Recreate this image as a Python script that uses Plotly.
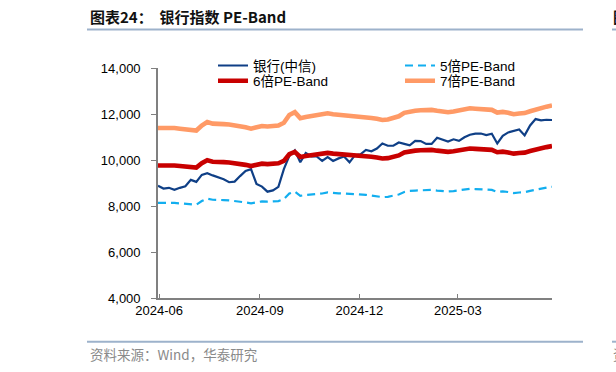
import pandas as pd
import plotly.graph_objects as go

# ---------------- data ----------------
dates = pd.date_range("2024-05-31", periods=73, freq="5D")

bank_index = [8880, 8760, 8790, 8700, 8790, 8860, 9135, 9050, 9353, 9427,
              9330, 9240, 9160, 9034, 9060, 9300, 9528, 9600, 8960, 8842,
              8623, 8680, 8830, 9600, 10180, 10420, 9900, 10300, 10160, 10153,
              9960, 10130, 9960, 10070, 10150, 9900, 10210, 10250, 10440, 10380,
              10500, 10720, 10620, 10620, 10760, 10700, 10640, 10830, 10820, 10700,
              10700, 10970, 10900, 10800, 10900, 10830, 10990, 11100, 11150, 11150,
              11080, 11140, 10720, 11050, 11200, 11250, 11330, 11071, 11500, 11780,
              11720, 11750, 11740]

band_5x = [8136, 8143, 8129, 8136, 8114, 8100, 8071, 8057, 8214, 8321,
           8271, 8279, 8257, 8243, 8221, 8193, 8157, 8114, 8143, 8200,
           8186, 8193, 8214, 8300, 8543, 8629, 8443, 8479, 8500, 8514,
           8543, 8593, 8564, 8550, 8543, 8536, 8521, 8500, 8486, 8450,
           8421, 8386, 8400, 8443, 8500, 8607, 8657, 8671, 8686, 8700,
           8700, 8671, 8650, 8629, 8650, 8686, 8729, 8750, 8736, 8729,
           8714, 8700, 8614, 8636, 8607, 8564, 8586, 8600, 8657, 8714,
           8764, 8800, 8836]

band_6x = [9763, 9771, 9754, 9763, 9737, 9720, 9686, 9669, 9857, 9986,
           9926, 9934, 9909, 9891, 9866, 9831, 9789, 9737, 9771, 9840,
           9823, 9831, 9857, 9960, 10251, 10354, 10131, 10174, 10200, 10217,
           10251, 10311, 10277, 10260, 10251, 10243, 10226, 10200, 10183, 10140,
           10106, 10063, 10080, 10131, 10200, 10329, 10389, 10406, 10423, 10440,
           10440, 10406, 10380, 10354, 10380, 10423, 10474, 10500, 10483, 10474,
           10457, 10440, 10337, 10363, 10329, 10277, 10303, 10320, 10389, 10457,
           10517, 10560, 10603]

band_7x = [11390, 11400, 11380, 11390, 11360, 11340, 11300, 11280, 11500, 11650,
           11580, 11590, 11560, 11540, 11510, 11470, 11420, 11360, 11400, 11480,
           11460, 11470, 11500, 11620, 11960, 12080, 11820, 11870, 11900, 11920,
           11960, 12030, 11990, 11970, 11960, 11950, 11930, 11900, 11880, 11830,
           11790, 11740, 11760, 11820, 11900, 12050, 12120, 12140, 12160, 12180,
           12180, 12140, 12110, 12080, 12110, 12160, 12220, 12250, 12230, 12220,
           12200, 12180, 12060, 12090, 12050, 11990, 12020, 12040, 12120, 12200,
           12270, 12320, 12370]

series_names = ["银行(中信)", "5倍PE-Band", "6倍PE-Band", "7倍PE-Band"]
y_ticks = [4000, 6000, 8000, 10000, 12000, 14000]
x_ticks = ["2024-06-01", "2024-09-01", "2024-12-01", "2025-03-01"]
x_labels = ["2024-06", "2024-09", "2024-12", "2025-03"]

title_text = "图表24：  银行指数 PE-Band"
source_text = "资料来源：Wind，华泰研究"

# ---------------- figure ----------------
W, H = 616, 372
ML, MR, MT, MB = 158, 64, 68, 74
PW, PH = W - ML - MR, H - MT - MB


def px_x(p):
    return (p - ML) / PW


def px_y(p):
    return (H - MB - p) / PH


LAT = "Liberation Sans, Arial, Noto Sans CJK SC, sans-serif"
CJK = "Noto Sans CJK SC, Liberation Sans, sans-serif"

fig = go.Figure()
fig.add_trace(go.Scatter(x=dates, y=bank_index, name=series_names[0], mode="lines",
                         line=dict(color="#0F3F86", width=2.2), legend="legend"))
fig.add_trace(go.Scatter(x=dates, y=band_5x, name=series_names[1], mode="lines",
                         line=dict(color="#12AEEF", width=2.2, dash="8px,5px"), legend="legend"))
fig.add_trace(go.Scatter(x=dates, y=band_6x, name=series_names[2], mode="lines",
                         line=dict(color="#C80000", width=4.6), legend="legend2"))
fig.add_trace(go.Scatter(x=dates, y=band_7x, name=series_names[3], mode="lines",
                         line=dict(color="#FF9A66", width=4.6), legend="legend2"))

axis_color = "#808080"
tick_font = dict(family=LAT, size=13, color="#000000")

fig.update_xaxes(range=[dates[0], dates[-1]], tickvals=x_ticks, ticktext=x_labels,
                 showgrid=False, zeroline=False, showline=True, linecolor=axis_color,
                 linewidth=1.6, ticks="inside", ticklen=4, tickcolor=axis_color,
                 tickwidth=1.2, tickfont=tick_font)
fig.update_yaxes(range=[4000, 14000], tickvals=y_ticks, tickformat=",",
                 showgrid=False, zeroline=False, showline=True, linecolor=axis_color,
                 linewidth=1.6, ticks="outside", ticklen=5, tickcolor=axis_color,
                 tickwidth=1.2, tickfont=tick_font, ticklabelstandoff=8)

leg_common = dict(orientation="h", xanchor="left", yanchor="middle",
                  entrywidth=142, entrywidthmode="pixels",
                  bgcolor="rgba(0,0,0,0)",
                  font=dict(family=LAT, size=13.5, color="#000000"))
fig.update_layout(
    width=W, height=H,
    margin=dict(l=ML, r=MR, t=MT, b=MB, autoexpand=False),
    paper_bgcolor="white", plot_bgcolor="white",
    showlegend=True,
    legend=dict(x=px_x(213), y=px_y(65.7), **leg_common),
    legend2=dict(x=px_x(213), y=px_y(81), **leg_common),
)

rule_color = "#9DB2CB"
shapes = [
    dict(type="line", xref="paper", yref="paper", x0=px_x(87), x1=px_x(583),
         y0=px_y(29.5), y1=px_y(29.5), line=dict(color=rule_color, width=2)),
    dict(type="line", xref="paper", yref="paper", x0=px_x(87), x1=px_x(583),
         y0=px_y(341.7), y1=px_y(341.7), line=dict(color=rule_color, width=2)),
    dict(type="line", xref="paper", yref="paper", x0=px_x(612), x1=px_x(630),
         y0=px_y(29.5), y1=px_y(29.5), line=dict(color=rule_color, width=2)),
    dict(type="line", xref="paper", yref="paper", x0=px_x(612), x1=px_x(630),
         y0=px_y(341.7), y1=px_y(341.7), line=dict(color=rule_color, width=2)),
]
fig.update_layout(shapes=shapes)

annotations = [
    dict(text="<b>" + title_text + "</b>", xref="paper", yref="paper",
         x=px_x(88), y=px_y(17), xanchor="left", yanchor="middle", showarrow=False,
         font=dict(family=CJK, size=15, color="#111111")),
    dict(text=source_text, xref="paper", yref="paper",
         x=px_x(88), y=px_y(354), xanchor="left", yanchor="middle", showarrow=False,
         font=dict(family=CJK, size=13.5, color="#8A8A8A")),
    dict(text="<b>图</b>", xref="paper", yref="paper",
         x=px_x(611), y=px_y(17), xanchor="left", yanchor="middle", showarrow=False,
         font=dict(family=CJK, size=15, color="#111111")),
    dict(text="资", xref="paper", yref="paper",
         x=px_x(611), y=px_y(354), xanchor="left", yanchor="middle", showarrow=False,
         font=dict(family=CJK, size=13.5, color="#8A8A8A")),
]
fig.update_layout(annotations=annotations)

fig.write_html("out.html", config={"displayModeBar": False},
               post_script="document.body.style.margin='0';document.body.style.overflow='hidden';")
